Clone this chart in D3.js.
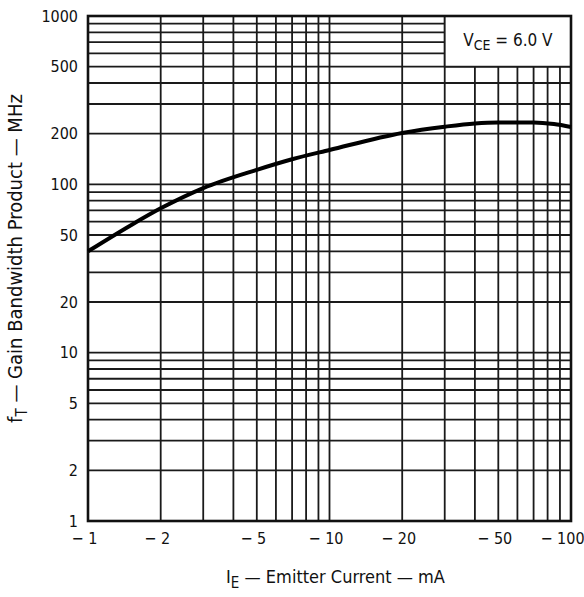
<!DOCTYPE html>
<html>
<head>
<meta charset="utf-8">
<script src="https://cdn.jsdelivr.net/npm/d3@7"></script>
<style>
  body { margin: 0; background: #fff; }
  svg text { font-family: "DejaVu Sans Condensed", "Liberation Sans Narrow", "Liberation Sans", sans-serif; font-stretch: condensed; fill: #111; }
</style>
</head>
<body>
<svg width="584" height="597"></svg>
<script>
// emitter current (mA, magnitude) vs fT (MHz)
const current = [1, 1.5, 2, 3, 5, 7, 10, 20, 30, 40, 50, 70, 85, 100];
const ft = [40, 57, 72, 95, 122, 141, 160, 202, 220, 230, 233, 233, 228, 219];

const xTicks = [1, 2, 5, 10, 20, 50, 100];
const yTicks = [1, 2, 5, 10, 20, 50, 100, 200, 500, 1000];

let margin = { top: 16, right: 13, bottom: 76, left: 88 },
  width = 584 - margin.left - margin.right,
  height = 597 - margin.top - margin.bottom;

const x = d3.scaleLog().domain([1, 100]).range([0, width]);
const y = d3.scaleLog().domain([1, 1000]).range([height, 0]);

const svg = d3.select('svg')
  .append('g')
  .attr('transform', `translate(${margin.left}, ${margin.top})`);

// grid lines: every integer step inside each decade
const xGrid = [];
for (let d = 1; d < 100; d *= 10) for (let k = 1; k < 10; k++) xGrid.push(d * k);
xGrid.push(100);
const yGrid = [];
for (let d = 1; d < 1000; d *= 10) for (let k = 1; k < 10; k++) yGrid.push(d * k);
yGrid.push(1000);

svg.selectAll('.vgrid')
  .data(xGrid)
  .enter()
  .append('line')
  .attr('class', 'vgrid')
  .attr('x1', d => x(d)).attr('x2', d => x(d))
  .attr('y1', 0).attr('y2', height)
  .attr('stroke', '#1a1a1a').attr('stroke-width', 1.8);

svg.selectAll('.hgrid')
  .data(yGrid)
  .enter()
  .append('line')
  .attr('class', 'hgrid')
  .attr('x1', 0).attr('x2', width)
  .attr('y1', d => y(d)).attr('y2', d => y(d))
  .attr('stroke', '#1a1a1a').attr('stroke-width', 1.8);

// condition box covers the grid in the upper right corner
svg.append('rect')
  .attr('x', x(30)).attr('y', y(1000))
  .attr('width', x(100) - x(30)).attr('height', y(500) - y(1000))
  .attr('fill', '#fff').attr('stroke', '#1a1a1a').attr('stroke-width', 1.8);

const vce = svg.append('text')
  .attr('x', (x(30) + x(100)) / 2).attr('y', (y(1000) + y(500)) / 2 + 5)
  .attr('text-anchor', 'middle')
  .style('font-size', '17px');
vce.append('tspan').text('V');
vce.append('tspan').attr('dy', 4).style('font-size', '14px').text('CE');
vce.append('tspan').attr('dy', -4).text(' = 6.0  V');

// frame
svg.append('rect')
  .attr('width', width).attr('height', height)
  .attr('fill', 'none').attr('stroke', '#111').attr('stroke-width', 2.6);

// curve
const line = d3.line()
  .x((d, i) => x(current[i]))
  .y(d => y(d))
  .curve(d3.curveMonotoneX);

svg.append('path')
  .datum(ft)
  .attr('d', line)
  .attr('fill', 'none')
  .attr('stroke', '#000')
  .attr('stroke-width', 4);

// add the x Axis
svg.append('g')
  .attr('transform', 'translate(0,' + height + ')')
  .call(d3.axisBottom(x).tickValues(xTicks).tickSize(0).tickPadding(12)
    .tickFormat(d => '\u2212 ' + d))
  .call(g => g.select('.domain').remove())
  .selectAll('text')
  .style('font-size', '16px')
  .attr('dx', d => d === 100 ? -9 : -4);

// add the y Axis
svg.append('g')
  .call(d3.axisLeft(y).tickValues(yTicks).tickSize(0).tickPadding(10)
    .tickFormat(d => d))
  .call(g => g.select('.domain').remove())
  .selectAll('text').style('font-size', '16px');

// axis titles
const xt = svg.append('text')
  .attr('x', width / 2 + 6).attr('y', height + 62)
  .attr('text-anchor', 'middle')
  .style('font-size', '18px');
xt.append('tspan').text('I');
xt.append('tspan').attr('dy', 5).style('font-size', '15px').text('E');
xt.append('tspan').attr('dy', -5).text(' \u2014 Emitter  Current \u2014 mA');

const yt = svg.append('text')
  .attr('transform', `translate(${-66}, ${height / 2 - 10}) rotate(-90)`)
  .attr('text-anchor', 'middle')
  .style('font-size', '20px');
yt.append('tspan').text('f');
yt.append('tspan').attr('dy', 5).style('font-size', '15px').text('T');
yt.append('tspan').attr('dy', -5).text(' \u2014 Gain  Bandwidth  Product \u2014 MHz');
</script>
</body>
</html>
